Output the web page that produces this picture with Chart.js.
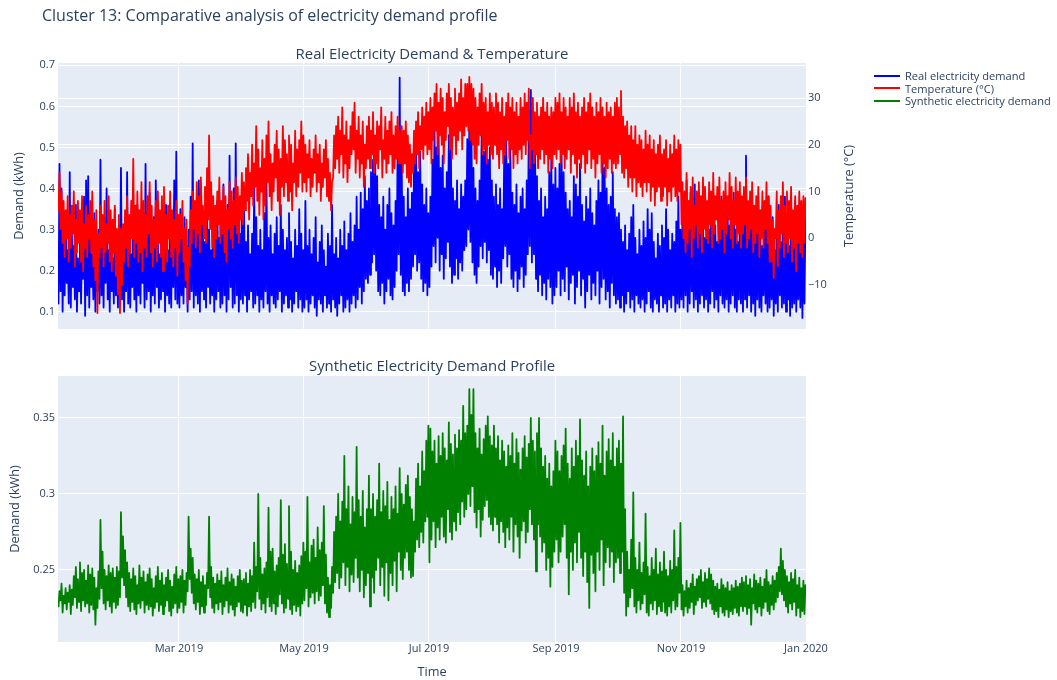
<!DOCTYPE html>
<html><head><meta charset="utf-8">
<script src="https://cdn.jsdelivr.net/npm/chart.js@4.4.1/dist/chart.umd.min.js"></script>
<style>
body{margin:0;background:#fff;width:1057px;height:680px;overflow:hidden;position:relative;font-family:"Open Sans",verdana,arial,sans-serif;color:#2a3f5f}
canvas{position:absolute;left:0}
#c1{top:0}
#c2{top:345px}
.t{position:absolute;white-space:nowrap;line-height:1}
.lg{position:absolute;left:874px;width:26px;height:0;border-top:2px solid}
</style></head><body>
<canvas id="c1" width="1057" height="345"></canvas>
<canvas id="c2" width="1057" height="335"></canvas>
<div class="t" style="left:42px;top:7px;font-size:16px">Cluster 13: Comparative analysis of electricity demand profile</div>
<div class="t" style="left:432px;top:46.4px;font-size:14.9px;transform:translateX(-50%)">Real Electricity Demand &amp; Temperature</div>
<div class="t" style="left:432px;top:358.4px;font-size:14.9px;transform:translateX(-50%)">Synthetic Electricity Demand Profile</div>
<div class="t" style="left:848px;top:196px;font-size:12.7px;transform:translate(-50%,-50%) rotate(-90deg)">Temperature (°C)</div>
<div class="lg" style="top:74.7px;border-color:#0000ff"></div>
<div class="lg" style="top:87.3px;border-color:#ff0000"></div>
<div class="lg" style="top:99.7px;border-color:#008000"></div>
<div class="t" style="left:905px;top:70px;font-size:11.1px">Real electricity demand</div>
<div class="t" style="left:905px;top:82.5px;font-size:11.1px">Temperature (°C)</div>
<div class="t" style="left:905px;top:95px;font-size:11.1px">Synthetic electricity demand</div>
<script>
// ---- axis ticks ----
const monthTickDays = [59, 120, 181, 243, 304, 365];
const monthTickLabels = ["Mar 2019", "May 2019", "Jul 2019", "Sep 2019", "Nov 2019", "Jan 2020"];
const demandTicks = [0.1, 0.2, 0.3, 0.4, 0.5, 0.6, 0.7];
const demandTickLabels = ["0.1", "0.2", "0.3", "0.4", "0.5", "0.6", "0.7"];
const tempTicks = [-10, 0, 10, 20, 30];
const tempTickLabels = ["\u221210", "0", "10", "20", "30"];
const synthTicks = [0.25, 0.3, 0.35];
const synthTickLabels = ["0.25", "0.3", "0.35"];

// ---- real electricity demand (kWh): daily low / daily high, Jan..Dec 2019 ----
const demandLow = [
0.12,0.15,0.10,0.14,0.17,0.12,0.11,0.16,0.13,0.10,0.15,0.12,0.18,0.09,0.14,0.11,0.16,0.13,0.10,0.15,0.12,0.14,0.11,0.17,0.13,0.10,0.15,0.12,0.14,0.11,0.16,
0.13,0.10,0.15,0.12,0.11,0.16,0.13,0.10,0.14,0.12,0.17,0.11,0.13,0.15,0.10,0.14,0.12,0.16,0.11,0.13,0.15,0.10,0.14,0.12,0.11,0.16,0.13,0.12,
0.11,0.14,0.12,0.16,0.10,0.13,0.15,0.11,0.14,0.12,0.10,0.15,0.13,0.11,0.16,0.12,0.14,0.10,0.13,0.15,0.11,0.12,0.14,0.10,0.13,0.16,0.11,0.12,0.14,0.10,0.13,
0.12,0.14,0.10,0.13,0.15,0.11,0.12,0.14,0.10,0.13,0.11,0.15,0.12,0.10,0.14,0.12,0.11,0.13,0.15,0.10,0.12,0.14,0.11,0.13,0.10,0.12,0.15,0.11,0.13,0.10,
0.11,0.13,0.10,0.12,0.14,0.11,0.09,0.13,0.12,0.10,0.14,0.11,0.12,0.10,0.13,0.11,0.09,0.12,0.14,0.10,0.11,0.13,0.10,0.12,0.14,0.11,0.13,0.16,0.12,0.15,0.18,
0.17,0.19,0.22,0.24,0.20,0.15,0.14,0.17,0.12,0.15,0.18,0.14,0.13,0.16,0.20,0.24,0.19,0.15,0.14,0.17,0.15,0.18,0.21,0.24,0.20,0.22,0.18,0.15,0.17,0.14,
0.16,0.21,0.26,0.22,0.28,0.20,0.24,0.18,0.23,0.27,0.21,0.17,0.19,0.23,0.18,0.22,0.20,0.25,0.26,0.30,0.27,0.22,0.19,0.17,0.21,0.26,0.23,0.27,0.22,0.25,0.19,
0.18,0.21,0.16,0.20,0.17,0.23,0.26,0.21,0.24,0.18,0.16,0.20,0.15,0.18,0.21,0.16,0.19,0.24,0.26,0.22,0.24,0.18,0.15,0.19,0.14,0.17,0.13,0.18,0.16,0.12,0.14,
0.16,0.20,0.14,0.18,0.15,0.21,0.13,0.17,0.19,0.12,0.16,0.20,0.14,0.18,0.11,0.15,0.19,0.13,0.17,0.14,0.20,0.12,0.16,0.18,0.13,0.15,0.11,0.17,0.14,0.12,
0.13,0.11,0.14,0.10,0.12,0.15,0.11,0.13,0.10,0.14,0.12,0.11,0.13,0.10,0.12,0.15,0.11,0.10,0.13,0.12,0.10,0.14,0.11,0.12,0.10,0.13,0.11,0.14,0.10,0.12,0.11,
0.13,0.11,0.14,0.10,0.12,0.15,0.11,0.13,0.10,0.12,0.14,0.11,0.13,0.10,0.12,0.15,0.11,0.13,0.10,0.14,0.12,0.11,0.13,0.10,0.12,0.14,0.11,0.10,0.13,0.12,
0.10,0.13,0.11,0.14,0.10,0.12,0.09,0.13,0.11,0.10,0.14,0.12,0.10,0.11,0.13,0.09,0.12,0.10,0.14,0.11,0.12,0.10,0.13,0.09,0.11,0.12,0.10,0.13,0.11,0.085,0.12
];
const demandHigh = [
0.46,0.40,0.28,0.33,0.25,0.44,0.30,0.26,0.36,0.23,0.31,0.27,0.38,0.42,0.43,0.29,0.24,0.34,0.26,0.30,0.47,0.28,0.33,0.40,0.25,0.30,0.23,0.35,0.27,0.31,0.45,
0.30,0.26,0.44,0.29,0.24,0.33,0.27,0.36,0.25,0.31,0.28,0.46,0.30,0.39,0.26,0.33,0.42,0.27,0.24,0.32,0.29,0.36,0.25,0.30,0.34,0.42,0.49,0.31,
0.35,0.28,0.33,0.26,0.30,0.38,0.51,0.36,0.29,0.42,0.40,0.31,0.27,0.35,0.30,0.25,0.33,0.29,0.37,0.28,0.32,0.41,0.30,0.36,0.48,0.34,0.40,0.51,0.33,0.29,0.36,
0.38,0.27,0.31,0.24,0.29,0.41,0.33,0.26,0.30,0.25,0.34,0.42,0.28,0.31,0.24,0.29,0.33,0.26,0.36,0.30,0.25,0.28,0.34,0.27,0.23,0.30,0.26,0.35,0.29,0.25,
0.37,0.26,0.30,0.24,0.28,0.33,0.22,0.27,0.31,0.25,0.21,0.29,0.26,0.36,0.24,0.28,0.23,0.30,0.26,0.32,0.25,0.29,0.34,0.27,0.31,0.38,0.30,0.39,0.35,0.43,0.37,
0.40,0.44,0.47,0.50,0.43,0.36,0.33,0.38,0.30,0.36,0.40,0.34,0.31,0.37,0.50,0.67,0.46,0.38,0.33,0.40,0.35,0.39,0.46,0.51,0.44,0.49,0.41,0.36,0.40,0.34,
0.38,0.47,0.55,0.50,0.53,0.45,0.48,0.40,0.44,0.53,0.50,0.40,0.37,0.42,0.35,0.41,0.38,0.42,0.52,0.57,0.55,0.45,0.40,0.37,0.42,0.53,0.49,0.52,0.47,0.50,0.42,
0.38,0.41,0.36,0.40,0.35,0.48,0.52,0.46,0.50,0.39,0.36,0.41,0.34,0.38,0.40,0.35,0.42,0.55,0.64,0.50,0.55,0.43,0.37,0.40,0.33,0.38,0.35,0.44,0.47,0.41,0.45,
0.40,0.46,0.48,0.44,0.39,0.35,0.37,0.33,0.43,0.41,0.38,0.46,0.36,0.32,0.38,0.35,0.40,0.34,0.31,0.37,0.42,0.39,0.48,0.45,0.40,0.36,0.38,0.44,0.35,0.33,
0.34,0.30,0.27,0.31,0.25,0.29,0.33,0.36,0.28,0.24,0.30,0.26,0.32,0.28,0.35,0.30,0.34,0.27,0.23,0.29,0.26,0.31,0.28,0.35,0.30,0.25,0.29,0.27,0.32,0.38,0.30,
0.33,0.37,0.42,0.35,0.39,0.30,0.41,0.36,0.32,0.38,0.34,0.28,0.33,0.30,0.36,0.39,0.31,0.27,0.35,0.38,0.32,0.29,0.36,0.31,0.34,0.39,0.30,0.27,0.35,0.33,
0.39,0.48,0.34,0.30,0.36,0.28,0.33,0.37,0.29,0.26,0.35,0.31,0.38,0.28,0.33,0.25,0.30,0.36,0.27,0.32,0.38,0.29,0.26,0.34,0.30,0.37,0.27,0.31,0.35,0.28,0.33
];

// ---- temperature (°C): daily low / daily high ----
const tempLow = [
6,2,-1,-4,0,-5,-2,1,-6,-3,-1,-5,-7,-2,-4,0,-3,-6,-9,-16,-4,-2,-6,-3,-1,-5,-7,-3,-8,-12,-16,
-10,-5,-2,-6,-3,0,-4,-1,-5,-3,-7,-2,-4,1,-3,-6,-2,-5,-1,-4,-7,-3,-5,0,-4,-6,-2,-8,
-3,0,-5,-9,-14,-6,-1,2,-2,1,-3,3,0,-1,4,2,-2,-4,0,3,-1,1,-3,-5,2,0,-2,3,1,-1,4,
3,6,8,4,9,7,11,8,5,10,4,7,12,9,6,10,13,8,5,11,9,12,8,10,6,12,9,11,14,10,
12,10,13,9,11,14,10,12,8,11,13,9,8,6,13,15,17,14,18,13,16,12,15,18,19,14,17,13,16,11,15,
17,15,18,14,16,15,19,13,17,14,16,18,14,15,17,16,16,14,16,13,12,11,14,16,18,15,19,17,20,18,
19,16,21,23,18,22,20,16,21,24,19,17,22,18,21,23,19,22,24,23,21,20,17,16,20,22,18,19,16,20,18,
17,20,18,15,19,16,18,21,17,19,15,18,16,19,17,20,18,21,15,19,16,18,15,17,19,16,18,14,17,15,18,
17,19,16,18,15,17,19,14,18,16,13,17,15,18,14,16,19,15,17,13,16,18,14,16,13,15,17,14,16,15,
16,18,14,13,15,11,13,10,13,9,12,11,9,12,10,12,8,11,7,10,11,8,9,11,7,10,8,11,9,8,10,
3,0,-3,-1,2,-4,0,3,-2,1,-3,2,0,-1,3,-2,1,4,-1,0,2,-3,1,4,0,-2,3,-1,1,-2,
1,3,-2,0,2,-3,-1,1,-4,0,-2,2,-1,-5,-5,-8.5,0,-6,-2,1,-4,-1,-3,0,-5,-2,-7,-1,-3,-4,-1
];
const tempHigh = [
14,10,8,6,9,5,7,10,4,8,6,9,3,7,5,8,10,4,6,1,7,5,8,3,9,6,4,7,2,5,2,
3,6,9,5,8,17,7,10,6,12,8,5,9,12,7,4,8,10,6,9,11,5,7,10,6,4,8,5,
5,8,2,4,-2,6,10,8,12,9,13,7,11,15,22,12,9,7,10,13,8,11,9,6,12,10,8,13,11,9,14,
12,15,18,14,20,16,24,19,15,21,17,22,25,18,16,20,23,19,17,24,21,18,22,20,16,23,19,21,25,22,
20,18,21,17,19,22,18,20,16,19,21,17,14,12,22,24,26,23,28,22,25,21,24,27,29,23,26,22,25,20,24,
26,23,27,22,25,24,28,21,26,23,25,27,22,24,26,23,24,23,25,22,20,18,23,25,27,24,28,26,29,27,
30,28,31,33,29,32,30,27,31,33,30,28,32,29,31,34,30,33,33,34.5,33,32,30,28,31,33,29,30,27,31,29,
28,31,29,27,30,26,29,31,28,30,27,29,26,30,28,31,29,32,22,30,27,29,26,28,30,27,29,26,28,27,30,
29,31,27,30,28,26,30,28,31,27,29,26,28,30,27,29,31,28,26,29,27,30,28,26,29,27,28,26,29,30,
28,31.5,26,24,25,22,24,21,24,20,22,21,19,23,20,22,19,21,18,20,22,18,19,21,17,20,18,22,19,21,20,
12,10,14,8,11,13,7,10,12,9,13,11,8,12,10,14,9,11,13,8,10,12,9,14,11,8,13,10,12,9,
11,13,8,10,12,7,9,11,6,10,8,12,9,7,4,2,10,6,9,12,7,10,8,11,6,9,7,10,8,9,8.6
];

// ---- synthetic electricity demand (kWh): daily low / daily high ----
const synthLow = [
0.226,0.230,0.222,0.228,0.224,0.229,0.221,0.227,0.232,0.225,0.229,0.223,0.230,0.226,0.228,0.222,0.227,0.224,0.214,0.225,0.231,0.238,0.228,0.224,0.230,0.226,0.222,0.229,0.225,0.227,0.232,
0.245,0.240,0.232,0.226,0.223,0.229,0.224,0.221,0.228,0.225,0.230,0.222,0.227,0.224,0.226,0.220,0.225,0.229,0.223,0.227,0.221,0.226,0.230,0.223,0.220,0.225,0.228,0.222,
0.225,0.229,0.222,0.227,0.236,0.244,0.235,0.228,0.224,0.229,0.221,0.226,0.222,0.227,0.238,0.232,0.225,0.222,0.228,0.224,0.229,0.221,0.226,0.230,0.222,0.227,0.224,0.220,0.226,0.229,0.223,
0.222,0.227,0.220,0.226,0.223,0.229,0.225,0.236,0.231,0.224,0.228,0.222,0.232,0.226,0.223,0.228,0.221,0.226,0.234,0.228,0.222,0.225,0.231,0.224,0.221,0.227,0.223,0.226,0.220,0.228,
0.230,0.238,0.226,0.232,0.235,0.228,0.236,0.230,0.233,0.240,0.228,0.222,0.219,0.225,0.235,0.242,0.248,0.238,0.245,0.255,0.240,0.252,0.236,0.247,0.242,0.258,0.245,0.236,0.250,0.232,0.240,
0.248,0.226,0.245,0.235,0.250,0.258,0.240,0.252,0.233,0.255,0.230,0.248,0.240,0.256,0.236,0.262,0.250,0.244,0.258,0.262,0.250,0.245,0.246,0.262,0.270,0.265,0.275,0.268,0.282,0.285,
0.255,0.270,0.282,0.265,0.278,0.270,0.285,0.272,0.268,0.290,0.275,0.270,0.282,0.276,0.288,0.280,0.295,0.285,0.290,0.300,0.292,0.305,0.288,0.278,0.290,0.272,0.283,0.292,0.296,0.285,0.280,
0.276,0.285,0.280,0.268,0.282,0.275,0.265,0.278,0.270,0.285,0.262,0.280,0.272,0.258,0.276,0.282,0.268,0.275,0.290,0.280,0.270,0.249,0.280,0.272,0.262,0.268,0.250,0.258,0.239,0.252,0.262,
0.270,0.255,0.262,0.272,0.280,0.258,0.234,0.262,0.250,0.268,0.255,0.275,0.258,0.246,0.262,0.242,0.225,0.260,0.248,0.236,0.262,0.250,0.270,0.240,0.255,0.265,0.252,0.262,0.242,0.255,
0.258,0.248,0.262,0.235,0.220,0.226,0.232,0.238,0.226,0.222,0.230,0.224,0.228,0.234,0.222,0.220,0.228,0.224,0.230,0.221,0.226,0.223,0.229,0.222,0.220,0.226,0.222,0.230,0.224,0.226,0.235,
0.224,0.220,0.226,0.222,0.225,0.229,0.221,0.227,0.230,0.232,0.225,0.229,0.226,0.231,0.228,0.224,0.221,0.223,0.219,0.226,0.222,0.220,0.224,0.219,0.223,0.221,0.225,0.222,0.220,0.226,
0.223,0.226,0.221,0.225,0.214,0.228,0.224,0.222,0.226,0.220,0.225,0.229,0.223,0.221,0.227,0.224,0.229,0.232,0.236,0.234,0.230,0.226,0.222,0.228,0.224,0.229,0.220,0.225,0.219,0.223,0.221
];
const synthHigh = [
0.236,0.241,0.233,0.238,0.235,0.240,0.237,0.246,0.252,0.244,0.255,0.248,0.250,0.243,0.253,0.247,0.251,0.245,0.238,0.249,0.283,0.262,0.250,0.246,0.253,0.248,0.251,0.245,0.252,0.249,0.288,
0.272,0.263,0.255,0.248,0.244,0.251,0.246,0.240,0.253,0.245,0.249,0.242,0.247,0.251,0.244,0.238,0.246,0.252,0.243,0.248,0.240,0.245,0.250,0.243,0.239,0.247,0.252,0.244,
0.246,0.250,0.243,0.248,0.285,0.264,0.258,0.247,0.244,0.250,0.242,0.246,0.240,0.248,0.285,0.252,0.245,0.241,0.247,0.243,0.249,0.240,0.245,0.251,0.242,0.247,0.244,0.239,0.246,0.250,0.243,
0.244,0.248,0.241,0.250,0.246,0.268,0.252,0.300,0.258,0.247,0.251,0.255,0.291,0.262,0.264,0.249,0.253,0.258,0.296,0.260,0.267,0.254,0.292,0.262,0.250,0.256,0.248,0.253,0.259,0.268,
0.262,0.298,0.255,0.266,0.270,0.258,0.278,0.263,0.268,0.292,0.260,0.245,0.240,0.252,0.275,0.285,0.300,0.282,0.295,0.325,0.290,0.305,0.280,0.298,0.288,0.331,0.296,0.285,0.302,0.278,0.290,
0.312,0.290,0.300,0.285,0.296,0.320,0.288,0.302,0.292,0.308,0.283,0.298,0.290,0.305,0.287,0.317,0.300,0.293,0.306,0.312,0.298,0.290,0.282,0.310,0.320,0.305,0.328,0.315,0.335,0.345,
0.343,0.328,0.335,0.320,0.338,0.325,0.340,0.330,0.322,0.347,0.333,0.326,0.339,0.330,0.342,0.335,0.358,0.340,0.345,0.369,0.352,0.369,0.340,0.330,0.343,0.326,0.336,0.345,0.351,0.338,0.332,
0.345,0.330,0.338,0.322,0.335,0.328,0.318,0.332,0.325,0.340,0.320,0.336,0.327,0.316,0.330,0.338,0.324,0.333,0.350,0.335,0.328,0.340,0.350,0.330,0.318,0.325,0.310,0.320,0.305,0.315,0.335,
0.328,0.315,0.325,0.332,0.343,0.320,0.310,0.330,0.318,0.335,0.325,0.349,0.322,0.312,0.328,0.305,0.318,0.330,0.315,0.325,0.334,0.320,0.345,0.312,0.328,0.336,0.322,0.340,0.318,0.330,
0.335,0.320,0.351,0.290,0.262,0.250,0.270,0.301,0.258,0.250,0.268,0.248,0.255,0.287,0.252,0.246,0.258,0.250,0.264,0.247,0.255,0.249,0.262,0.250,0.246,0.256,0.250,0.276,0.252,0.258,0.281,
0.240,0.236,0.243,0.238,0.241,0.247,0.239,0.244,0.246,0.250,0.242,0.248,0.244,0.251,0.247,0.243,0.239,0.241,0.237,0.244,0.240,0.238,0.242,0.236,0.240,0.238,0.243,0.239,0.241,0.245,
0.242,0.246,0.240,0.244,0.238,0.247,0.243,0.241,0.245,0.239,0.244,0.250,0.242,0.240,0.246,0.243,0.248,0.252,0.264,0.256,0.250,0.246,0.242,0.248,0.244,0.250,0.240,0.245,0.238,0.243,0.240
];

// ---- build series: each day -> (low, high) points, x in days since 1 Jan 2019 ----
function series(low, high) {
  const out = [];
  const n = Math.min(low.length, high.length);
  for (let i = 0; i < n; i++) {
    out.push({x: i + 0.25, y: low[i]});
    out.push({x: i + 0.72, y: high[i]});
  }
  return out;
}

const FONT = '"Open Sans", verdana, arial, sans-serif';
const TXT = '#2a3f5f';
const bgPlugin = {
  id: 'bg',
  beforeDraw(chart) {
    const {ctx, chartArea: a} = chart;
    ctx.save();
    ctx.fillStyle = '#E5ECF6';
    ctx.fillRect(a.left, a.top, a.right - a.left, a.bottom - a.top);
    ctx.restore();
  }
};
function setTicks(arr) { return s => { s.ticks = arr.map(v => ({value: v})); }; }
function xScale(showLabels, h) {
  return {
    type: 'linear', position: 'bottom', min: 0, max: 365,
    afterBuildTicks: setTicks(monthTickDays),
    afterFit: s => { s.height = h; },
    ticks: {display: showLabels, autoSkip: false, maxRotation: 0, padding: 0, color: TXT,
            font: {family: FONT, size: 11}, callback: (v, i) => monthTickLabels[i]},
    grid: {color: '#ffffff', lineWidth: 1, drawTicks: false},
    border: {display: false},
    title: {display: showLabels, text: 'Time', color: TXT, font: {family: FONT, size: 12.7}, padding: {top: 0, bottom: 0}}
  };
}
function lineDs(label, data, color, axis, order) {
  return {label, data, borderColor: color, backgroundColor: color, borderWidth: 1.8, pointRadius: 0,
          borderJoinStyle: 'round', borderCapStyle: 'round', tension: 0, yAxisID: axis, order, fill: false};
}
const common = {responsive: false, animation: false, events: [], parsing: false, normalized: true,
  plugins: {legend: {display: false}, tooltip: {enabled: false}, title: {display: false}}};

new Chart(document.getElementById('c1'), {
  type: 'line',
  data: {datasets: [
    lineDs('Real electricity demand', series(demandLow, demandHigh), '#0000ff', 'y', 2),
    lineDs('Temperature (°C)', series(tempLow, tempHigh), '#ff0000', 'y1', 1)
  ]},
  options: Object.assign({}, common, {
    layout: {padding: {top: 63, left: 0, right: 0, bottom: 0}},
    scales: {
      x: xScale(false, 16),
      y: {type: 'linear', position: 'left', min: 0.0579, max: 0.7056,
          afterBuildTicks: setTicks(demandTicks), afterFit: s => { s.width = 58; },
          ticks: {padding: 3, color: TXT, font: {family: FONT, size: 11}, callback: (v, i) => demandTickLabels[i]},
          grid: {color: '#ffffff', lineWidth: 1, drawTicks: false}, border: {display: false},
          title: {display: true, text: 'Demand (kWh)', color: TXT, font: {family: FONT, size: 12.7}, padding: {top: 11.4, bottom: 0}}},
      y1: {type: 'linear', position: 'right', min: -19.41, max: 37.49,
          afterBuildTicks: setTicks(tempTicks), afterFit: s => { s.width = 251; },
          ticks: {padding: 2, color: TXT, font: {family: FONT, size: 11}, callback: (v, i) => tempTickLabels[i]},
          grid: {color: '#ffffff', lineWidth: 1, drawTicks: false}, border: {display: false}}
    }
  }),
  plugins: [bgPlugin]
});

new Chart(document.getElementById('c2'), {
  type: 'line',
  data: {datasets: [
    lineDs('Synthetic electricity demand', series(synthLow, synthHigh), '#008000', 'y', 1)
  ]},
  options: Object.assign({}, common, {
    layout: {padding: {top: 31, left: 0, right: 251, bottom: 0}},
    scales: {
      x: xScale(true, 38),
      y: {type: 'linear', position: 'left', min: 0.2026, max: 0.3776,
          afterBuildTicks: setTicks(synthTicks), afterFit: s => { s.width = 58; },
          ticks: {padding: 3, color: TXT, font: {family: FONT, size: 11}, callback: (v, i) => synthTickLabels[i]},
          grid: {color: '#ffffff', lineWidth: 1, drawTicks: false}, border: {display: false},
          title: {display: true, text: 'Demand (kWh)', color: TXT, font: {family: FONT, size: 12.7}, padding: {top: 7.4, bottom: 0}}}
    }
  }),
  plugins: [bgPlugin]
});
</script>
</body></html>
